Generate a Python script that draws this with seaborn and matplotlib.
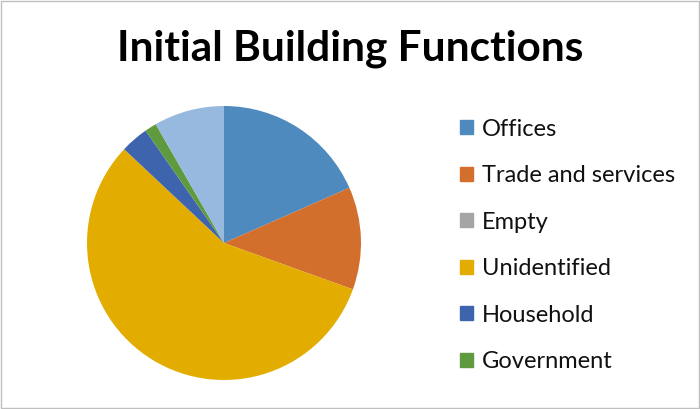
import matplotlib
matplotlib.use("Agg")
import matplotlib.pyplot as plt
import matplotlib.patches as mpatches
import seaborn as sns

categories = ["Offices", "Trade and services", "Empty", "Unidentified",
              "Household", "Government", "Other"]
shares = [18.4, 12.1, 0.0, 56.5, 3.3, 1.4, 8.3]
colors = ["#4F8ABE", "#D36F2D", "#A5A5A5", "#E2AC00",
          "#3E64AE", "#5F9B3E", "#97B9E0"]
# the legend in the original only lists the first six entries
legend_count = 6

sns.set_theme(style="white")
plt.rcParams["font.family"] = ["Lato", "DejaVu Sans"]

fig = plt.figure(figsize=(7.0, 4.09), dpi=100)
fig.patch.set_facecolor("white")

ax = fig.add_axes([0.1243, 0.0709, 0.3914, 0.670])
ax.pie(shares, colors=colors, startangle=90, counterclock=False,
       radius=1.0, wedgeprops={"linewidth": 0})
ax.set_xlim(-1, 1)
ax.set_ylim(-1, 1)
ax.set_aspect("equal")
ax.axis("off")

fig.text(0.5, 0.882, "Initial Building Functions", ha="center", va="center",
         fontsize=30.5, fontweight="bold", color="black")

handles = [mpatches.Patch(color=c, label=l)
           for c, l in zip(colors[:legend_count], categories[:legend_count])]
leg = fig.legend(handles=handles, loc="upper left",
                 bbox_to_anchor=(0.643, 0.733), frameon=False,
                 fontsize=17, handlelength=0.55, handleheight=0.55,
                 handletextpad=0.4, labelspacing=1.08, borderaxespad=0)
for t in leg.get_texts():
    t.set_color("#111111")

# thin grey frame round the whole chart
fig.add_artist(mpatches.Rectangle((0.001, 0.002), 0.997, 0.995,
                                  transform=fig.transFigure, fill=False,
                                  edgecolor="#BFBFBF", linewidth=1))

fig.savefig("out.png", dpi=100)
